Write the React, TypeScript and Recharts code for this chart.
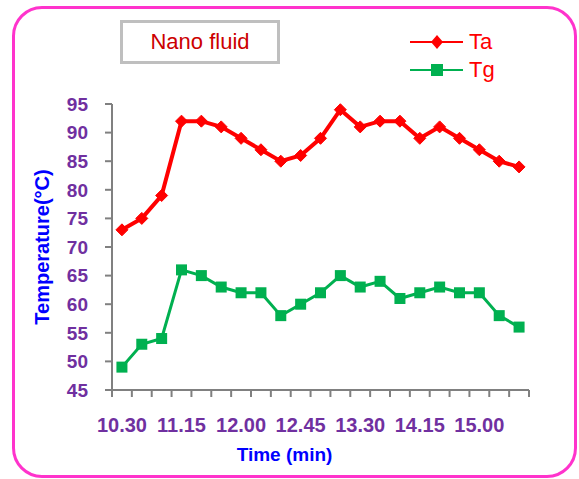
import { LineChart, Line, XAxis, YAxis } from "recharts";

const FONT = '"Liberation Sans", Arial, sans-serif';

// time of reading, every 15 min
const times = [
    "10.30", "10.45", "11.00", "11.15", "11.30", "11.45", "12.00",
    "12.15", "12.30", "12.45", "13.00", "13.15", "13.30", "13.45",
    "14.00", "14.15", "14.30", "14.45", "15.00", "15.15", "15.30"
];

const ta = [73, 75, 79, 92, 92, 91, 89, 87, 85, 86, 89, 94, 91, 92, 92, 89, 91, 89, 87, 85, 84];
const tg = [49, 53, 54, 66, 65, 63, 62, 62, 58, 60, 62, 65, 63, 64, 61, 62, 63, 62, 62, 58, 56];

const yTicks = [45, 50, 55, 60, 65, 70, 75, 80, 85, 90, 95];

const data = times.map((t, i) => ({ pos: i + 0.5, time: t, Ta: ta[i], Tg: tg[i] }));

// boundaries between readings carry the tick marks, labels every 3rd reading
const boundaryTicks = times.map((_, i) => i).concat([times.length]);
const labelTicks = times.map((_, i) => i + 0.5).filter((_, i) => i % 3 === 0 && i < 19);

const RED = "#ff0000";
const GREEN = "#00b050";
const AXIS = "#808080";
const PURPLE = "#7030a0";

const Diamond = (props: any) => {
    const { cx, cy } = props;
    if (cx == null || cy == null) return null;
    const r = 6;
    return (
        <polygon
            points={`${cx},${cy - r} ${cx + r},${cy} ${cx},${cy + r} ${cx - r},${cy}`}
            fill={RED}
            stroke={RED}
            strokeWidth={1}
        />
    );
};

const Square = (props: any) => {
    const { cx, cy } = props;
    if (cx == null || cy == null) return null;
    return <rect x={cx - 5.5} y={cy - 5.5} width={11} height={11} fill={GREEN} />;
};

// tick mark hanging below the x axis line
const XMark = (props: any) => {
    const { x, y } = props;
    return <line x1={x} x2={x} y1={y} y2={y + 7} stroke={AXIS} strokeWidth={2} />;
};

// tick mark left of the y axis plus its value
const YTick = (props: any) => {
    const { x, y, payload } = props;
    return (
        <g>
            <line x1={x - 7} x2={x} y1={y} y2={y} stroke={AXIS} strokeWidth={2} />
            <text
                x={x - 24}
                y={y}
                dy="0.36em"
                textAnchor="end"
                fill={PURPLE}
                fontSize={19}
                fontWeight="bold"
                fontFamily={FONT}
            >
                {payload.value}
            </text>
        </g>
    );
};

const legendItems = [
    { name: "Ta", color: RED, square: false },
    { name: "Tg", color: GREEN, square: true }
];

export default function App() {
    return (
        <div style={{ position: "absolute", left: 0, top: 0, width: 579, height: 479, background: "#fff", fontFamily: FONT }}>

            <div style={{
                position: "absolute", left: 12, top: 6, width: 565, height: 472,
                border: "3px solid #ff33cc", borderRadius: 30, boxSizing: "border-box"
            }} />

            <div style={{
                position: "absolute", left: 120, top: 20, width: 160, height: 44,
                border: "3px solid #bfbfbf", boxSizing: "border-box",
                display: "flex", alignItems: "center", justifyContent: "center",
                color: "#cc0000", fontSize: 22
            }}>
                Nano fluid
            </div>

            <div style={{ position: "absolute", left: 410, top: 28 }}>
                {legendItems.map((s) => (
                    <div key={s.name} style={{ display: "flex", alignItems: "center", height: 28 }}>
                        <svg width={54} height={16}>
                            <line x1={0} y1={8} x2={53} y2={8} stroke={s.color} strokeWidth={2} />
                            {s.square ? (
                                <rect x={21} y={2} width={12} height={12} fill={s.color} />
                            ) : (
                                <polygon points="27,1 33,8 27,15 21,8" fill={s.color} />
                            )}
                        </svg>
                        <span style={{ color: RED, fontSize: 22, marginLeft: 5, lineHeight: "28px" }}>{s.name}</span>
                    </div>
                ))}
            </div>

            <LineChart
                width={579}
                height={479}
                data={data}
                margin={{ top: 104, right: 50, bottom: 31, left: 0 }}
                style={{ position: "absolute", left: 0, top: 0 }}
            >
                <XAxis
                    xAxisId="a"
                    dataKey="pos"
                    type="number"
                    domain={[0, times.length]}
                    ticks={boundaryTicks}
                    interval={0}
                    tick={<XMark />}
                    tickLine={false}
                    tickSize={0}
                    tickMargin={0}
                    height={8}
                    stroke={AXIS}
                    strokeWidth={2}
                />
                <XAxis
                    xAxisId="b"
                    dataKey="pos"
                    type="number"
                    domain={[0, times.length]}
                    ticks={labelTicks}
                    interval={0}
                    tickFormatter={(v: number) => times[Math.floor(v)]}
                    axisLine={false}
                    tickLine={false}
                    tickSize={0}
                    tickMargin={20}
                    height={50}
                    tick={{ fill: PURPLE, fontSize: 20, fontWeight: "bold", fontFamily: FONT }}
                    label={{
                        value: "Time (min)", position: "bottom", offset: 0, dx: -36,
                        fill: "#0000ff", fontSize: 19, fontWeight: "bold", fontFamily: FONT
                    }}
                />
                <YAxis
                    domain={[45, 95]}
                    ticks={yTicks}
                    interval={0}
                    width={112}
                    tickSize={0}
                    tickMargin={0}
                    tickLine={false}
                    stroke={AXIS}
                    strokeWidth={2}
                    tick={<YTick />}
                    label={{
                        value: "Temperature(°C)", angle: -90, position: "center", dx: -14,
                        fill: "#0000ff", fontSize: 20, fontWeight: "bold", fontFamily: FONT
                    }}
                />
                <Line
                    xAxisId="a"
                    dataKey="Ta"
                    stroke={RED}
                    strokeWidth={4}
                    dot={<Diamond />}
                    activeDot={false}
                    isAnimationActive={false}
                />
                <Line
                    xAxisId="a"
                    dataKey="Tg"
                    stroke={GREEN}
                    strokeWidth={3}
                    dot={<Square />}
                    activeDot={false}
                    isAnimationActive={false}
                />
            </LineChart>
        </div>
    );
}
